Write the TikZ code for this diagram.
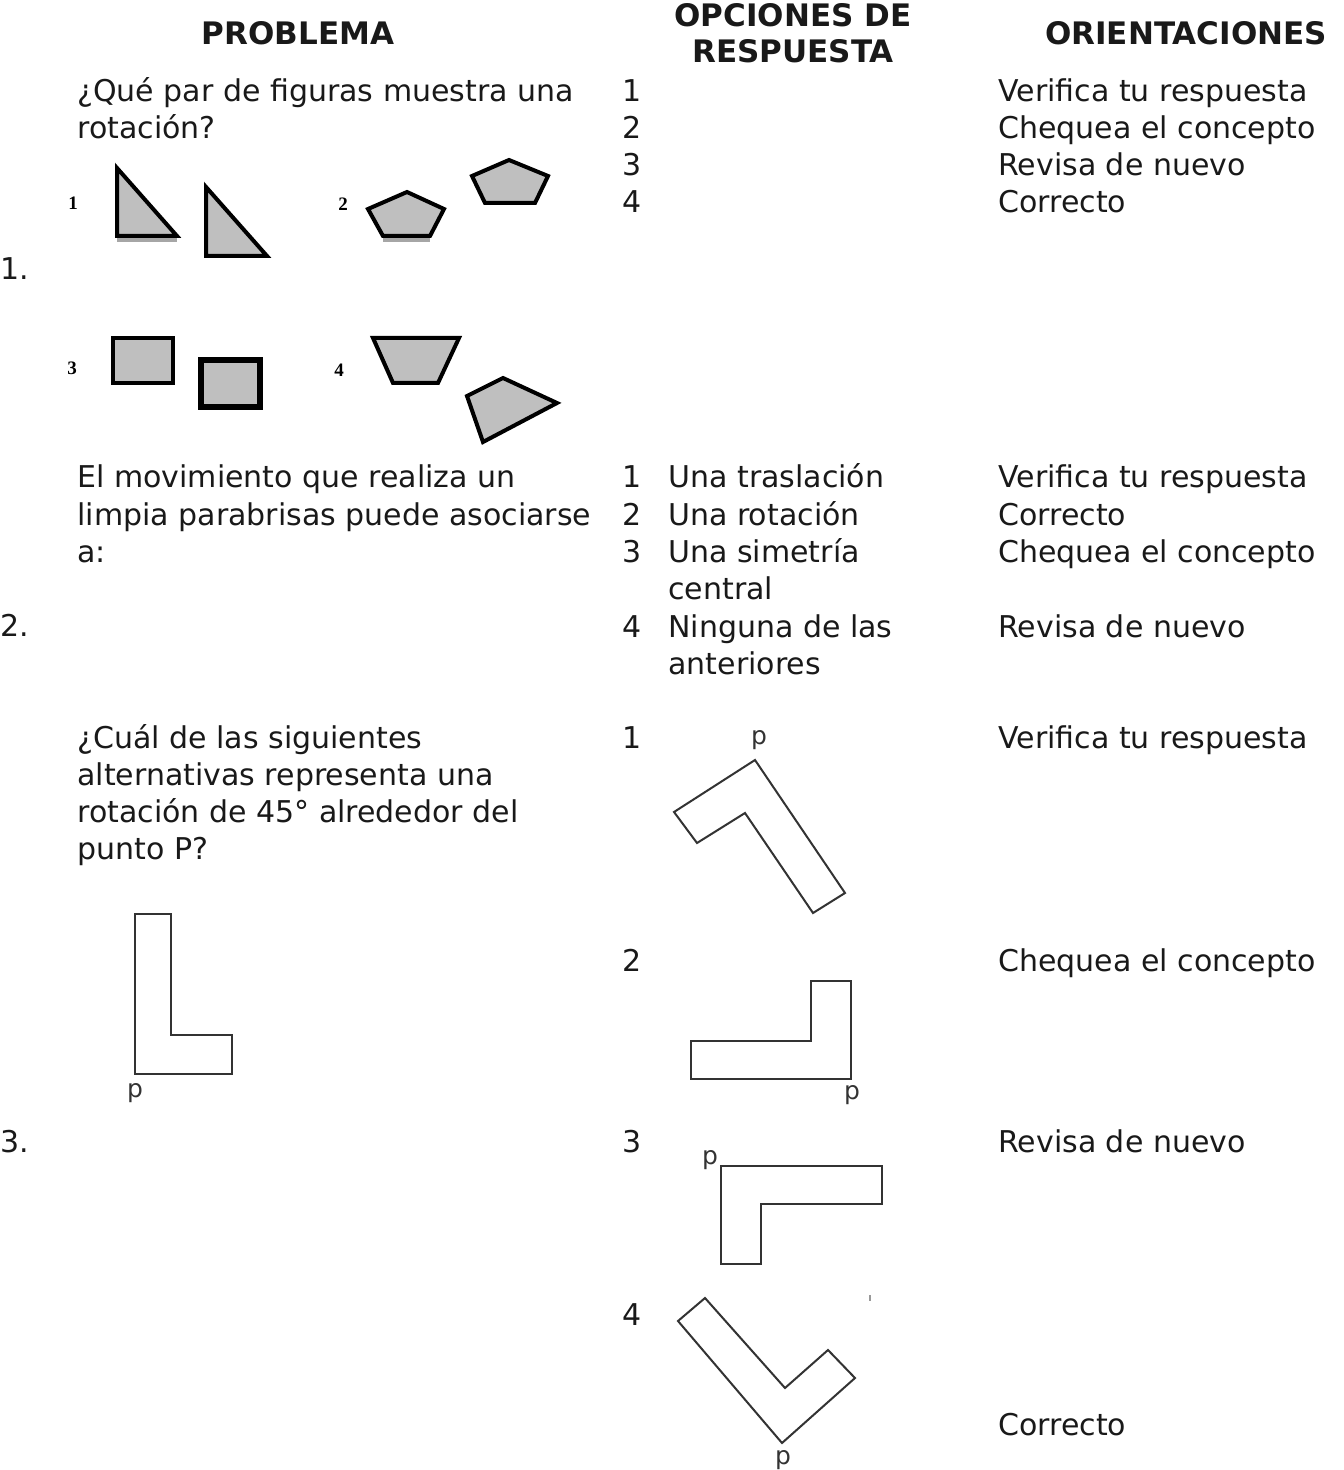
\documentclass[tikz,border=0pt]{standalone}
\usepackage{fontspec}
\setmainfont{DejaVu Sans}
\newfontfamily\lblfont{Liberation Serif}
\begin{document}
\begin{tikzpicture}[x=0.5pt,y=-0.5pt,
  txt/.style={anchor=base west, inner sep=0pt, font=\fontsize{15}{18.5}\selectfont, text=black!90},
  hdr/.style={anchor=base, inner sep=0pt, font=\fontsize{15.5}{18}\selectfont\bfseries, text=black!90},
  shp/.style={draw=black, line width=2pt, fill=black!25, line join=miter},
  shadow/.style={draw=black!35, line width=2pt},
  lshape/.style={draw=black!80, line width=1pt, line join=miter},
  plbl/.style={inner sep=0pt, font=\fontsize{12.5}{12.5}\selectfont, text=black!80},
  nlbl/.style={inner sep=0pt, font=\lblfont\bfseries\fontsize{9.5}{9.5}\selectfont}
]
\useasboundingbox (0,0) rectangle (1343,1470);
% headers
\node[hdr] (hProb) at (298,45) {PROBLEMA};
\node[hdr] (hOpc1) at (793,27) {OPCIONES DE};
\node[hdr] (hOpc2) at (793,63) {RESPUESTA};
\node[hdr] (hOri) at (1186,45) {ORIENTACIONES};
% row numbers
\node[txt] (n1) at (0,280) {1.};
\node[txt] (n2) at (0,636) {2.};
\node[txt] (n3) at (0,1152) {3.};
% ---------- row 1
\node[txt] (p1a) at (77,102) {¿Qué par de figuras muestra una};
\node[txt] (p1b) at (77,139) {rotación?};
\node[txt] (o1n1) at (622,102) {1};
\node[txt] (o1n2) at (622,139) {2};
\node[txt] (o1n3) at (622,176) {3};
\node[txt] (o1n4) at (622,213) {4};
\node[txt] (r1a) at (998,102) {Verifica tu respuesta};
\node[txt] (r1b) at (998,139) {Chequea el concepto};
\node[txt] (r1c) at (998,176) {Revisa de nuevo};
\node[txt] (r1d) at (998,213) {Correcto};
% figures of row 1
\node[nlbl] (f1) at (73,203) {1};
\draw[shadow] (117,240) -- (177,240);
\draw[shp] (117,168) -- (117,236) -- (177,236) -- cycle;
\draw[shp] (206,187) -- (206,256) -- (267,256) -- cycle;
\node[nlbl] (f2) at (343,204) {2};
\draw[shadow] (383,240) -- (430,240);
\draw[shp] (407,192) -- (368,209) -- (383,236) -- (430,236) -- (444,209) -- cycle;
\draw[shp] (509,160) -- (472,176) -- (485,203) -- (535,203) -- (548,176) -- cycle;
\node[nlbl] (f3) at (72,368) {3};
\draw[shp] (113,338) rectangle (173,383);
\draw[shp, line width=2.6pt] (201,360) rectangle (260,407);
\node[nlbl] (f4) at (339,370) {4};
\draw[shp] (373,338) -- (459,338) -- (438,383) -- (393,383) -- cycle;
\draw[shp] (467,396) -- (503,378) -- (557,403) -- (483,442) -- cycle;
% ---------- row 2
\node[txt] (p2a) at (77,487) {El movimiento que realiza un};
\node[txt] (p2b) at (77,525) {limpia parabrisas puede asociarse};
\node[txt] (p2c) at (77,562) {a:};
\node[txt] (o2n1) at (622,487) {1};
\node[txt] (o2t1) at (668,487) {Una traslación};
\node[txt] (o2n2) at (622,525) {2};
\node[txt] (o2t2) at (668,525) {Una rotación};
\node[txt] (o2n3) at (622,562) {3};
\node[txt] (o2t3) at (668,562) {Una simetría};
\node[txt] (o2t3b) at (668,599) {central};
\node[txt] (o2n4) at (622,637) {4};
\node[txt] (o2t4) at (668,637) {Ninguna de las};
\node[txt] (o2t4b) at (668,674) {anteriores};
\node[txt] (r2a) at (998,487) {Verifica tu respuesta};
\node[txt] (r2b) at (998,525) {Correcto};
\node[txt] (r2c) at (998,562) {Chequea el concepto};
\node[txt] (r2d) at (998,637) {Revisa de nuevo};
% ---------- row 3
\node[txt] (p3a) at (77,748) {¿Cuál de las siguientes};
\node[txt] (p3b) at (77,785) {alternativas representa una};
\node[txt] (p3c) at (77,822) {rotación de 45° alrededor del};
\node[txt] (p3d) at (77,859) {punto P?};
% original L
\draw[lshape] (135,914) -- (171,914) -- (171,1035) -- (232,1035) -- (232,1074) -- (135,1074) -- cycle;
\node[plbl] (pL0) at (135,1093) {p};
% options
\node[txt] (o3n1) at (622,748) {1};
\draw[lshape] (755,760) -- (845,893) -- (813,913) -- (745,813) -- (697,843) -- (674,812) -- cycle;
\node[plbl] (pL1) at (759,740) {p};
\node[txt] (o3n2) at (622,971) {2};
\draw[lshape] (851,1079) -- (851,981) -- (811,981) -- (811,1041) -- (691,1041) -- (691,1079) -- cycle;
\node[plbl] (pL2) at (852,1095) {p};
\node[txt] (o3n3) at (622,1152) {3};
\draw[lshape] (721,1166) -- (882,1166) -- (882,1204) -- (761,1204) -- (761,1264) -- (721,1264) -- cycle;
\node[plbl] (pL3) at (710,1160) {p};
\draw[draw=black!40, line width=1pt] (870,1295) -- (870,1301);
\node[txt] (o3n4) at (622,1325) {4};
\draw[lshape] (782,1443) -- (678,1321) -- (705,1298) -- (785,1388) -- (828,1350) -- (855,1378) -- cycle;
\node[plbl] (pL4) at (783,1460) {p};
\node[txt] (r3a) at (998,748) {Verifica tu respuesta};
\node[txt] (r3b) at (998,971) {Chequea el concepto};
\node[txt] (r3c) at (998,1152) {Revisa de nuevo};
\node[txt] (r3d) at (998,1435) {Correcto};
\end{tikzpicture}
\end{document}
